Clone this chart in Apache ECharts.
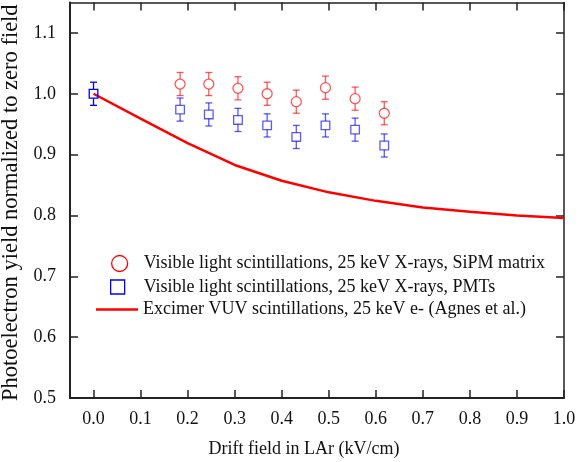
<!DOCTYPE html>
<html>
<head>
<meta charset="utf-8">
<script src="https://cdn.jsdelivr.net/npm/echarts@6/dist/echarts.min.js"></script>
<style>html,body{margin:0;padding:0;background:#fff;}#c{width:581px;height:462px;}</style>
</head>
<body>
<div id="c"></div>
<script>
// ---- data ----
var sipmX   = [0.184, 0.245, 0.307, 0.369, 0.431, 0.493, 0.556, 0.618];
var sipmY   = [1.016, 1.016, 1.009, 1.000, 0.987, 1.010, 0.992, 0.968];
var sipmErr = [0.019, 0.019, 0.019, 0.019, 0.019, 0.019, 0.019, 0.019];
var pmtX    = [0.0, 0.184, 0.245, 0.307, 0.369, 0.431, 0.493, 0.556, 0.618];
var pmtY    = [1.000, 0.974, 0.966, 0.957, 0.948, 0.929, 0.948, 0.941, 0.915];
var pmtErr  = [0.019, 0.019, 0.019, 0.019, 0.019, 0.019, 0.019, 0.019, 0.019];
var vuvX    = [0.0, 0.1, 0.2, 0.3, 0.4, 0.5, 0.6, 0.7, 0.8, 0.9, 1.0];
var vuvY    = [1.000, 0.959, 0.919, 0.883, 0.857, 0.838, 0.824, 0.813, 0.806, 0.800, 0.796];
var xTicks  = [0.0, 0.1, 0.2, 0.3, 0.4, 0.5, 0.6, 0.7, 0.8, 0.9, 1.0];
var yTicks  = [0.5, 0.6, 0.7, 0.8, 0.9, 1.0, 1.1];
var nameSipm = 'Visible light scintillations, 25 keV X-rays, SiPM matrix';
var namePmt  = 'Visible light scintillations, 25 keV X-rays, PMTs';
var nameVuv  = 'Excimer VUV scintillations, 25 keV e- (Agnes et al.)';
var xTitle = 'Drift field in LAr (kV/cm)';
var yTitle = 'Photoelectron yield normalized to zero field';

var FONT = '"Liberation Serif", "DejaVu Serif", serif';
var AX = '#222';

function zip3(a, b, c) { return a.map(function (v, i) { return [v, b[i], c[i]]; }); }

function errRender(kind, color) {
  return function (params, api) {
    var x = api.value(0), y = api.value(1), e = api.value(2);
    var c = api.coord([x, y]);
    var top = api.coord([x, y + e]);
    var bot = api.coord([x, y - e]);
    var op = (kind === 'square' && x === 0) ? 1 : 0.65;
    var st = { stroke: color, lineWidth: 1.3, fill: null, opacity: op };
    var cap = 3.5;
    var r = 5;
    var h = 4.3;
    var children = [
      { type: 'line', shape: { x1: c[0], y1: top[1], x2: c[0], y2: c[1] - (kind === 'circle' ? r : h) }, style: st },
      { type: 'line', shape: { x1: c[0], y1: c[1] + (kind === 'circle' ? r : h), x2: c[0], y2: bot[1] }, style: st },
      { type: 'line', shape: { x1: c[0] - cap, y1: top[1], x2: c[0] + cap, y2: top[1] }, style: st },
      { type: 'line', shape: { x1: c[0] - cap, y1: bot[1], x2: c[0] + cap, y2: bot[1] }, style: st }
    ];
    if (kind === 'circle') {
      children.push({ type: 'circle', shape: { cx: c[0], cy: c[1], r: r }, style: { stroke: color, lineWidth: 1.3, fill: 'transparent', opacity: op } });
    } else {
      children.push({ type: 'rect', shape: { x: c[0] - h, y: c[1] - h, width: 2 * h, height: 2 * h }, style: { stroke: color, lineWidth: 1.3, fill: 'transparent', opacity: op } });
    }
    return { type: 'group', children: children };
  };
}

var fmt1 = function (v) { return Number(v).toFixed(1); };

var chart = echarts.init(document.getElementById('c'), null, { renderer: 'canvas' });
chart.setOption({
  animation: false,
  backgroundColor: '#fff',
  grid: { left: 70, right: 17, top: 2.5, bottom: 64, containLabel: false, outerBoundsMode: 'none' },
  xAxis: [{
    type: 'value', min: -0.05, max: 1.0, position: 'bottom',
    name: xTitle, nameLocation: 'middle', nameGap: 42,
    nameTextStyle: { fontFamily: FONT, fontSize: 18, color: '#111', padding: [0, 26, 0, 0] },
    axisLine: { onZero: false, lineStyle: { color: AX, width: 2 } },
    axisTick: { inside: true, length: 8, customValues: xTicks, lineStyle: { color: AX, width: 1.5 } },
    axisLabel: { customValues: xTicks, formatter: fmt1, fontFamily: FONT, fontSize: 18, color: '#111', margin: 12 },
    splitLine: { show: false }
  }, {
    type: 'value', min: -0.05, max: 1.0, position: 'top',
    axisLine: { onZero: false, lineStyle: { color: AX, width: 1.5 } },
    axisTick: { inside: true, length: 8, customValues: xTicks, lineStyle: { color: AX, width: 1.5 } },
    axisLabel: { show: false }, splitLine: { show: false }
  }],
  yAxis: [{
    type: 'value', min: 0.5, max: 1.15, position: 'left',
    name: yTitle, nameLocation: 'middle', nameGap: 40,
    nameTextStyle: { fontFamily: FONT, fontSize: 22.5, color: '#111', padding: [0, 5, 0, 0] },
    axisLine: { onZero: false, lineStyle: { color: AX, width: 2 } },
    axisTick: { inside: true, length: 8, customValues: yTicks, lineStyle: { color: AX, width: 1.5 } },
    axisLabel: { customValues: yTicks, formatter: fmt1, fontFamily: FONT, fontSize: 18, color: '#111', margin: 14 },
    splitLine: { show: false }
  }, {
    type: 'value', min: 0.5, max: 1.15, position: 'right',
    axisLine: { onZero: false, lineStyle: { color: AX, width: 1.5 } },
    axisTick: { inside: true, length: 8, customValues: yTicks, lineStyle: { color: AX, width: 1.5 } },
    axisLabel: { show: false }, splitLine: { show: false }
  }],
  legend: [{
    data: [nameSipm], left: 111, top: 253.5, padding: 0, icon: 'circle',
    itemWidth: 16, itemHeight: 16, selectedMode: false,
    itemStyle: { color: 'transparent', borderColor: '#ff0000', borderWidth: 1.3 },
    textStyle: { fontFamily: FONT, fontSize: 18, color: '#111', lineHeight: 20, padding: [0, 0, 0, 11] }
  }, {
    data: [namePmt], left: 110, top: 277, padding: 0, icon: 'rect',
    itemWidth: 14, itemHeight: 14, selectedMode: false,
    itemStyle: { color: 'transparent', borderColor: '#0000ff', borderWidth: 1.3 },
    textStyle: { fontFamily: FONT, fontSize: 18, color: '#111', lineHeight: 20, padding: [0, 0, 0, 14] }
  }, {
    data: [nameVuv], left: 96, top: 299.5, padding: 0, icon: 'rect',
    itemWidth: 42, itemHeight: 2.5, selectedMode: false,
    itemStyle: { color: '#ff0000' },
    textStyle: { fontFamily: FONT, fontSize: 18, color: '#111', lineHeight: 20 }
  }],
  series: [{
    name: nameVuv, type: 'line', xAxisIndex: 0, yAxisIndex: 0,
    data: vuvX.map(function (v, i) { return [v, vuvY[i]]; }),
    showSymbol: false, symbol: 'none',
    lineStyle: { color: '#ff0000', width: 2.5 }, itemStyle: { color: '#ff0000' }, z: 2
  }, {
    name: nameSipm, type: 'custom', xAxisIndex: 0, yAxisIndex: 0,
    data: zip3(sipmX, sipmY, sipmErr), renderItem: errRender('circle', '#ff0000'),
    itemStyle: { color: '#ff0000' }, encode: { x: 0, y: 1 }, z: 3
  }, {
    name: namePmt, type: 'custom', xAxisIndex: 0, yAxisIndex: 0,
    data: zip3(pmtX, pmtY, pmtErr), renderItem: errRender('square', '#0000ff'),
    itemStyle: { color: '#0000ff' }, encode: { x: 0, y: 1 }, z: 3
  }]
});
</script>
</body>
</html>
